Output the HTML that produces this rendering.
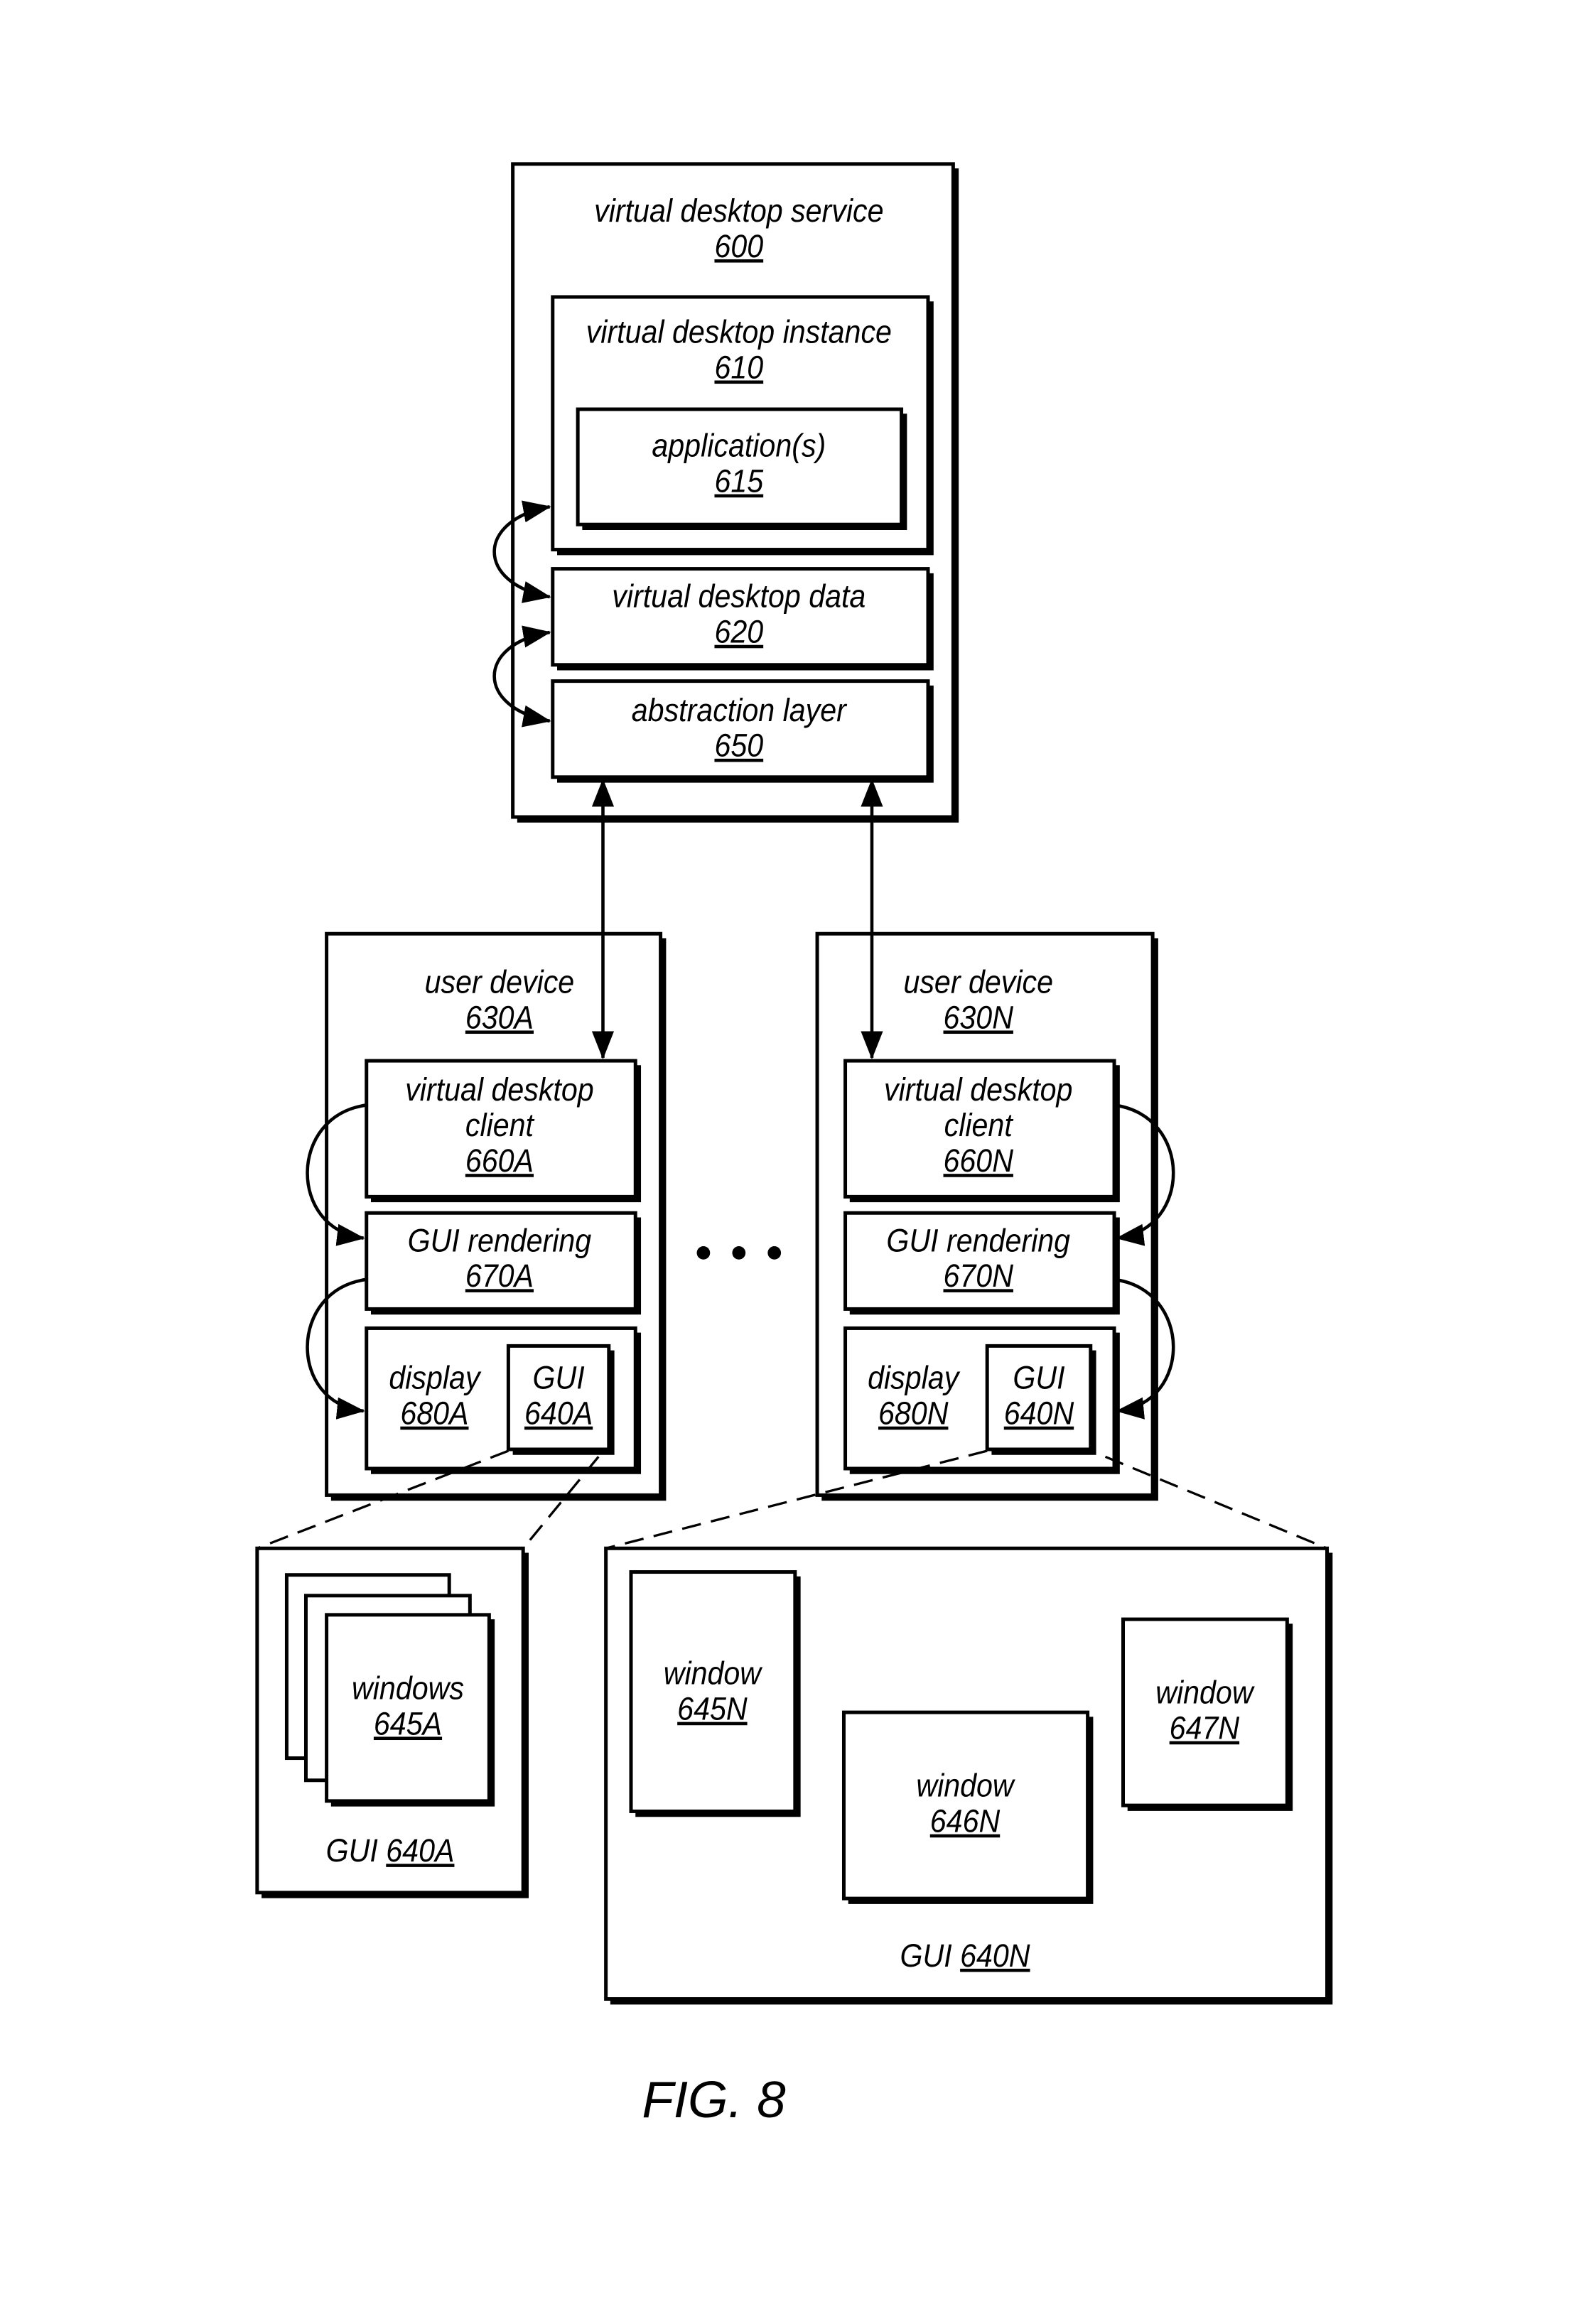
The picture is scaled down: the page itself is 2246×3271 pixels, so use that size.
<!DOCTYPE html>
<html><head><meta charset="utf-8"><style>
html,body{margin:0;padding:0;background:#fff}
svg{display:block}
text{font-family:"Liberation Sans Narrow","Liberation Sans",sans-serif;font-style:italic;font-size:22px;fill:#000}
.u{text-decoration:underline}
</style></head><body>
<svg width="2246" height="3271" viewBox="0 0 1080 1573" preserveAspectRatio="none" xmlns="http://www.w3.org/2000/svg">
<defs>
<marker id="ah" viewBox="0 0 19 15" refX="18" refY="7.5" markerWidth="19" markerHeight="15" markerUnits="userSpaceOnUse" orient="auto-start-reverse">
<path d="M0,0 L19,7.5 L0,15 Z" fill="#000"/>
</marker>
</defs>
<g fill="#fff" stroke="#000" stroke-width="2.4">
<rect x="347" y="111" width="298" height="442"/>
<rect x="374" y="201" width="254" height="171"/>
<rect x="391" y="277" width="219" height="78"/>
<rect x="374" y="385" width="254" height="65"/>
<rect x="374" y="461" width="254" height="65"/>
<rect x="221" y="632" width="226" height="380"/>
<rect x="248" y="718" width="182" height="92"/>
<rect x="248" y="821" width="182" height="65"/>
<rect x="248" y="899" width="182" height="95"/>
<rect x="344" y="911" width="68" height="70"/>
<rect x="553" y="632" width="227" height="380"/>
<rect x="572" y="718" width="182" height="92"/>
<rect x="572" y="821" width="182" height="65"/>
<rect x="572" y="899" width="182" height="95"/>
<rect x="668" y="911" width="70" height="70"/>
<rect x="174" y="1048" width="180" height="233"/>
<rect x="194" y="1066" width="110" height="124"/>
<rect x="207" y="1080" width="111" height="125"/>
<rect x="221" y="1093" width="110" height="126"/>
<rect x="410" y="1048" width="488" height="305"/>
<rect x="427" y="1064" width="111" height="162"/>
<rect x="571" y="1159" width="165" height="126"/>
<rect x="760" y="1096" width="111" height="126"/>
</g>
<g fill="none" stroke="#000" stroke-width="3.5">
<path d="M647,114 V555 H350"/>
<path d="M630,204 V374 H377"/>
<path d="M612,280 V357 H394"/>
<path d="M630,388 V452 H377"/>
<path d="M630,464 V528 H377"/>
<path d="M449,635 V1014 H224"/>
<path d="M432,721 V812 H251"/>
<path d="M432,824 V888 H251"/>
<path d="M432,902 V996 H251"/>
<path d="M414,914 V983 H347"/>
<path d="M782,635 V1014 H556"/>
<path d="M756,721 V812 H575"/>
<path d="M756,824 V888 H575"/>
<path d="M756,902 V996 H575"/>
<path d="M740,914 V983 H671"/>
<path d="M356,1051 V1283 H177"/>
<path d="M333,1096 V1221 H224"/>
<path d="M900,1051 V1355 H413"/>
<path d="M540,1067 V1228 H430"/>
<path d="M738,1162 V1287 H574"/>
<path d="M873,1099 V1224 H763"/>
</g>
<g fill="none" stroke="#000" stroke-width="2.2">
<path d="M408,528 V716" marker-start="url(#ah)" marker-end="url(#ah)"/>
<path d="M590,528 V716" marker-start="url(#ah)" marker-end="url(#ah)"/>
<path d="M372,404 C322,395 322,352 372,343" marker-start="url(#ah)" marker-end="url(#ah)"/>
<path d="M372,488 C322,479 322,436 372,428" marker-start="url(#ah)" marker-end="url(#ah)"/>
<path d="M248,748 C195,755 195,832 246,838" marker-end="url(#ah)"/>
<path d="M248,866 C195,873 195,950 246,955" marker-end="url(#ah)"/>
<path d="M754,748 C807,755 807,832 756,838" marker-end="url(#ah)"/>
<path d="M754,866 C807,873 807,950 756,955" marker-end="url(#ah)"/>
</g>
<g fill="none" stroke="#000" stroke-width="1.6" stroke-dasharray="13,7">
<path d="M344,982 L174,1048"/>
<path d="M405,986 L354,1048"/>
<path d="M668,982 L410,1048"/>
<path d="M748,986 L898,1048"/>
</g>
<g fill="#000">
<circle cx="476" cy="848" r="4.5"/><circle cx="500" cy="848" r="4.5"/><circle cx="524" cy="848" r="4.5"/>
</g>
<g text-anchor="middle">
<text transform="translate(500,150) scale(0.9,1)">virtual desktop service</text>
<text class="u" transform="translate(500,174) scale(0.9,1)">600</text>
<text transform="translate(500,232) scale(0.9,1)">virtual desktop instance</text>
<text class="u" transform="translate(500,256) scale(0.9,1)">610</text>
<text transform="translate(500,309) scale(0.9,1)">application(s)</text>
<text class="u" transform="translate(500,333) scale(0.9,1)">615</text>
<text transform="translate(500,411) scale(0.9,1)">virtual desktop data</text>
<text class="u" transform="translate(500,435) scale(0.9,1)">620</text>
<text transform="translate(500,488) scale(0.9,1)">abstraction layer</text>
<text class="u" transform="translate(500,512) scale(0.9,1)">650</text>

<text transform="translate(338,672) scale(0.9,1)">user device</text>
<text class="u" transform="translate(338,696) scale(0.9,1)">630A</text>
<text transform="translate(338,745) scale(0.9,1)">virtual desktop</text>
<text transform="translate(338,769) scale(0.9,1)">client</text>
<text class="u" transform="translate(338,793) scale(0.9,1)">660A</text>
<text transform="translate(338,847) scale(0.9,1)">GUI rendering</text>
<text class="u" transform="translate(338,871) scale(0.9,1)">670A</text>
<text transform="translate(294,940) scale(0.9,1)">display</text>
<text class="u" transform="translate(294,964) scale(0.9,1)">680A</text>
<text transform="translate(378,940) scale(0.9,1)">GUI</text>
<text class="u" transform="translate(378,964) scale(0.9,1)">640A</text>

<text transform="translate(662,672) scale(0.9,1)">user device</text>
<text class="u" transform="translate(662,696) scale(0.9,1)">630N</text>
<text transform="translate(662,745) scale(0.9,1)">virtual desktop</text>
<text transform="translate(662,769) scale(0.9,1)">client</text>
<text class="u" transform="translate(662,793) scale(0.9,1)">660N</text>
<text transform="translate(662,847) scale(0.9,1)">GUI rendering</text>
<text class="u" transform="translate(662,871) scale(0.9,1)">670N</text>
<text transform="translate(618,940) scale(0.9,1)">display</text>
<text class="u" transform="translate(618,964) scale(0.9,1)">680N</text>
<text transform="translate(703,940) scale(0.9,1)">GUI</text>
<text class="u" transform="translate(703,964) scale(0.9,1)">640N</text>

<text transform="translate(276,1150) scale(0.9,1)">windows</text>
<text class="u" transform="translate(276,1174) scale(0.9,1)">645A</text>
<text transform="translate(264,1260) scale(0.9,1)">GUI <tspan class="u">640A</tspan></text>

<text transform="translate(482,1140) scale(0.9,1)">window</text>
<text class="u" transform="translate(482,1164) scale(0.9,1)">645N</text>
<text transform="translate(653,1216) scale(0.9,1)">window</text>
<text class="u" transform="translate(653,1240) scale(0.9,1)">646N</text>
<text transform="translate(815,1153) scale(0.9,1)">window</text>
<text class="u" transform="translate(815,1177) scale(0.9,1)">647N</text>
<text transform="translate(653,1331) scale(0.9,1)">GUI <tspan class="u">640N</tspan></text>

<text x="483" y="1433" style="font-family:'Liberation Sans',sans-serif;font-size:35px">FIG. 8</text>
</g>
</svg>
</body></html>
